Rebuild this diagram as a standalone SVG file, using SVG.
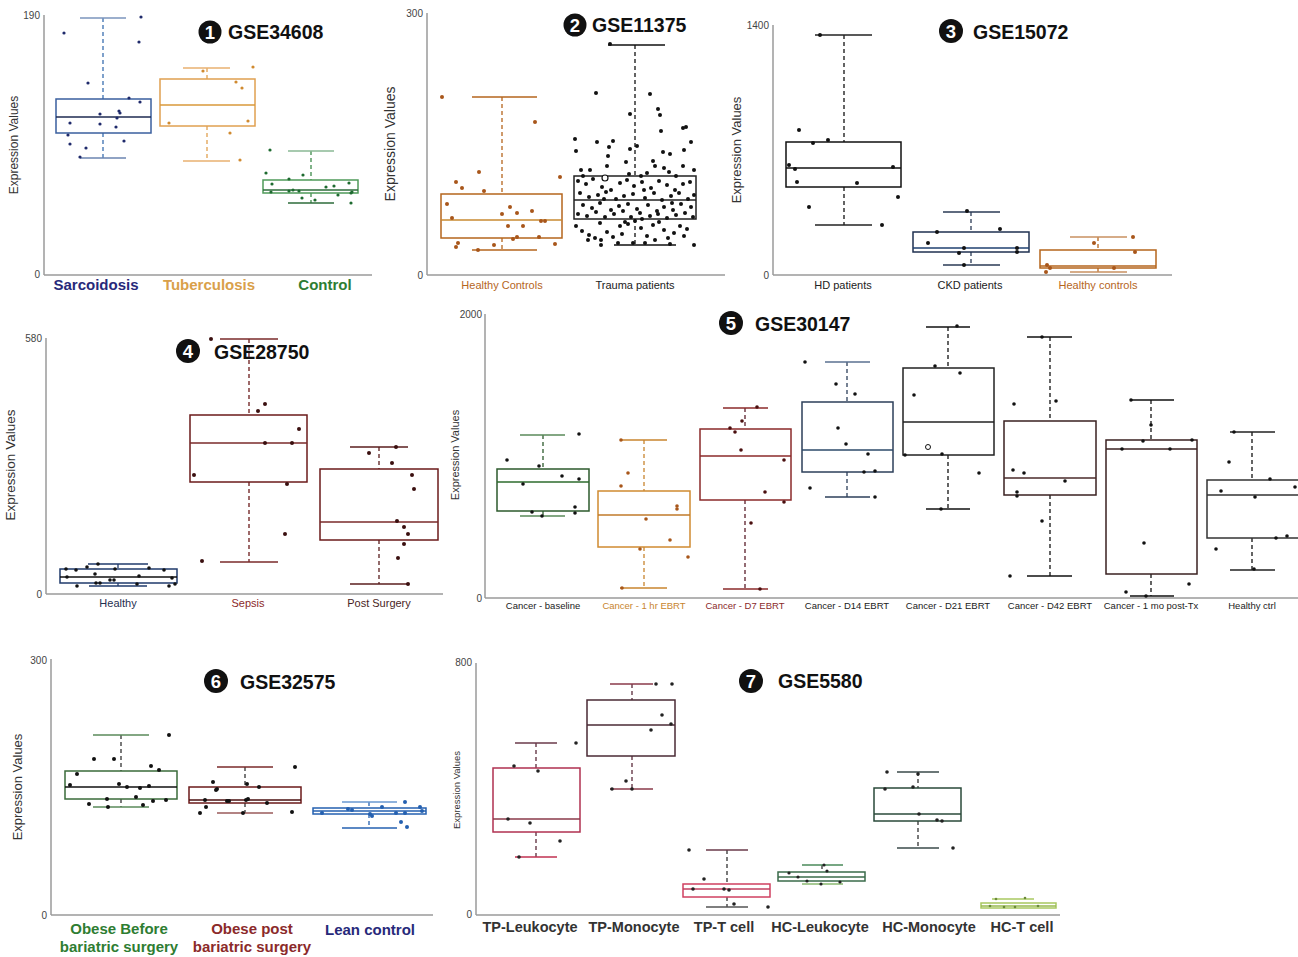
<svg xmlns="http://www.w3.org/2000/svg" width="1298" height="957" viewBox="0 0 1298 957">
<style>
text{font-family:"Liberation Sans",Arial,sans-serif}
.ax{stroke:#9a9a9a;stroke-width:1.5;fill:none}
.tk{font-size:10px;fill:#444}
.yl{fill:#333}
.box{fill:none;stroke-width:1.5}
.wh{stroke-dasharray:4 3;stroke-width:1.3}
.cap{stroke-width:1.3}
.med{stroke-width:1.5}
.tt{font-weight:bold;font-size:19.5px;fill:#111}
.num{font-weight:bold;font-size:18.5px;fill:#fff;text-anchor:middle}
.cl{font-size:11px;text-anchor:middle}
.cb{font-size:15px;font-weight:bold;text-anchor:middle}
</style>

<!-- Panel 1 -->
<g id="panel1">
<line class="ax" x1="44" y1="15" x2="44" y2="275"/><line class="ax" x1="44" y1="275" x2="372" y2="275"/>
<text class="tk" x="40" y="19" text-anchor="end" font-size="9">190</text><text class="tk" x="40" y="278" text-anchor="end" font-size="9">0</text>
<text class="yl" font-size="12" transform="translate(18,145) rotate(-90)" text-anchor="middle">Expression Values</text>
<circle cx="210" cy="32" r="11.5" fill="#111"/><text class="num" x="210" y="38.5">1</text>
<text class="tt" x="228" y="39">GSE34608</text>
<g id="p1-sarcoidosis">
<line class="wh" stroke="#3a6fb0" x1="103" y1="18" x2="103" y2="99"/><line class="wh" stroke="#3a6fb0" x1="103" y1="133" x2="103" y2="158"/>
<line class="cap" stroke="#7b95bd" x1="80" y1="18" x2="126" y2="18"/><line class="cap" stroke="#6b85b0" x1="80" y1="158" x2="126" y2="158"/>
<rect class="box" stroke="#3a5f9e" x="56" y="99" width="95" height="34"/>
<line class="med" stroke="#1e2a50" x1="56" y1="117" x2="151" y2="117"/>
<g fill="#1f2a6b"><circle cx="64" cy="33" r="1.6"/><circle cx="141" cy="17" r="1.6"/><circle cx="139" cy="42" r="1.6"/><circle cx="88" cy="83" r="1.6"/><circle cx="129" cy="98" r="1.6"/><circle cx="140" cy="102" r="1.6"/><circle cx="100" cy="114" r="1.6"/><circle cx="119" cy="111" r="1.6"/><circle cx="120" cy="113" r="1.6"/><circle cx="117" cy="118" r="1.6"/><circle cx="70" cy="123" r="1.6"/><circle cx="100" cy="124" r="1.6"/><circle cx="116" cy="127" r="1.6"/><circle cx="68" cy="135" r="1.6"/><circle cx="70" cy="144" r="1.6"/><circle cx="86" cy="148" r="1.6"/><circle cx="124" cy="141" r="1.6"/><circle cx="80" cy="157" r="1.6"/></g>
</g>
<g id="p1-tuberculosis">
<line class="wh" stroke="#e0a050" x1="207" y1="68" x2="207" y2="79"/><line class="wh" stroke="#e0a050" x1="207" y1="126" x2="207" y2="161"/>
<line class="cap" stroke="#e8b070" x1="183" y1="68" x2="230" y2="68"/><line class="cap" stroke="#e8b070" x1="183" y1="161" x2="230" y2="161"/>
<rect class="box" stroke="#e0a050" x="160" y="79" width="95" height="47"/>
<line class="med" stroke="#d9983a" x1="160" y1="105" x2="255" y2="105"/>
<g fill="#d08a30"><circle cx="203" cy="71" r="1.6"/><circle cx="253" cy="67" r="1.6"/><circle cx="236" cy="82" r="1.6"/><circle cx="242" cy="88" r="1.6"/><circle cx="169" cy="123" r="1.6"/><circle cx="248" cy="121" r="1.6"/><circle cx="230" cy="133" r="1.6"/><circle cx="240" cy="160" r="1.6"/></g>
</g>
<g id="p1-control">
<line class="wh" stroke="#3d8a4a" x1="311" y1="151" x2="311" y2="180"/><line class="wh" stroke="#3d8a4a" x1="311" y1="193" x2="311" y2="203"/>
<line class="cap" stroke="#8ab894" x1="288" y1="151" x2="334" y2="151"/><line class="cap" stroke="#2d6b3a" x1="288" y1="203" x2="334" y2="203"/>
<rect class="box" stroke="#4f9a5a" x="263" y="180" width="95" height="13"/>
<line class="med" stroke="#2d6b3a" x1="263" y1="190" x2="358" y2="190"/>
<g fill="#1e6b30"><circle cx="270" cy="150" r="1.6"/><circle cx="266" cy="173" r="1.6"/><circle cx="272" cy="184" r="1.6"/><circle cx="289" cy="179" r="1.6"/><circle cx="303" cy="175" r="1.6"/><circle cx="326" cy="187" r="1.6"/><circle cx="271" cy="192" r="1.6"/><circle cx="289" cy="191" r="1.6"/><circle cx="293" cy="190" r="1.6"/><circle cx="299" cy="191" r="1.6"/><circle cx="302" cy="198" r="1.6"/><circle cx="315" cy="200" r="1.6"/><circle cx="334" cy="186" r="1.6"/><circle cx="338" cy="195" r="1.6"/><circle cx="349" cy="183" r="1.6"/><circle cx="351" cy="193" r="1.6"/><circle cx="351" cy="203" r="1.6"/><circle cx="352" cy="192" r="1.6"/></g>
</g>
<text class="cb" x="96" y="290" fill="#27297a">Sarcoidosis</text>
<text class="cb" x="209" y="290" fill="#d9a04a">Tuberculosis</text>
<text class="cb" x="325" y="290" fill="#2e7d32">Control</text>
</g>

<!-- Panel 2 -->
<g id="panel2">
<line class="ax" x1="427" y1="13" x2="427" y2="275"/><line class="ax" x1="427" y1="275" x2="725" y2="275"/>
<text class="tk" x="423" y="17" text-anchor="end" font-size="11">300</text><text class="tk" x="423" y="279" text-anchor="end" font-size="11">0</text>
<text class="yl" font-size="14" transform="translate(395,144) rotate(-90)" text-anchor="middle">Expression Values</text>
<circle cx="575" cy="25" r="11.5" fill="#111"/><text class="num" x="575" y="31.5">2</text>
<text class="tt" x="592" y="32">GSE11375</text>
<g id="p2-healthy">
<line class="wh" stroke="#b5651d" x1="502" y1="97" x2="502" y2="194"/><line class="wh" stroke="#b5651d" x1="502" y1="238" x2="502" y2="250"/>
<line class="cap" stroke="#b5651d" x1="472" y1="97" x2="537" y2="97"/><line class="cap" stroke="#b5651d" x1="472" y1="250" x2="537" y2="250"/>
<rect class="box" stroke="#b5651d" x="441" y="194" width="121" height="44"/>
<line class="med" stroke="#c88a30" x1="441" y1="220" x2="562" y2="220"/>
<g fill="#a8561a"><circle cx="442" cy="97" r="2"/><circle cx="535" cy="122" r="2"/><circle cx="479" cy="172" r="2"/><circle cx="560" cy="177" r="2"/><circle cx="456" cy="182" r="2"/><circle cx="462" cy="188" r="2"/><circle cx="484" cy="191" r="2"/><circle cx="447" cy="204" r="2"/><circle cx="452" cy="218" r="2"/><circle cx="510" cy="207" r="2"/><circle cx="502" cy="214" r="2"/><circle cx="517" cy="213" r="2"/><circle cx="532" cy="211" r="2"/><circle cx="541" cy="221" r="2"/><circle cx="545" cy="221" r="2"/><circle cx="508" cy="226" r="2"/><circle cx="523" cy="226" r="2"/><circle cx="517" cy="237" r="2"/><circle cx="513" cy="239" r="2"/><circle cx="539" cy="237" r="2"/><circle cx="458" cy="243" r="2"/><circle cx="456" cy="247" r="2"/><circle cx="494" cy="245" r="2"/><circle cx="478" cy="250" r="2"/><circle cx="555" cy="244" r="2"/></g>
</g>
<g id="p2-trauma">
<line class="wh" stroke="#111" x1="635" y1="45" x2="635" y2="176"/><line class="wh" stroke="#111" x1="635" y1="219" x2="635" y2="245"/>
<line class="cap" stroke="#111" x1="608" y1="45" x2="665" y2="45"/><line class="cap" stroke="#111" x1="614" y1="245" x2="676" y2="245"/>
<rect class="box" stroke="#222" x="574" y="176" width="122" height="43"/>
<line class="med" stroke="#222" x1="574" y1="200" x2="696" y2="200"/>
<g fill="#111"><circle cx="596" cy="93" r="2"/><circle cx="650" cy="94" r="2"/><circle cx="610" cy="44" r="2"/><circle cx="630" cy="114" r="2"/><circle cx="658" cy="109" r="2"/><circle cx="660" cy="115" r="2"/><circle cx="683" cy="128" r="2"/><circle cx="686" cy="127" r="2"/><circle cx="661" cy="131" r="2"/><circle cx="575" cy="139" r="2"/><circle cx="691" cy="142" r="2"/><circle cx="597" cy="142" r="2"/><circle cx="613" cy="141" r="2"/><circle cx="609" cy="147" r="2"/><circle cx="637" cy="146" r="2"/><circle cx="576" cy="151" r="2"/><circle cx="630" cy="149" r="2"/><circle cx="663" cy="152" r="2"/><circle cx="670" cy="154" r="2"/><circle cx="684" cy="150" r="2"/><circle cx="608" cy="156" r="2"/><circle cx="626" cy="162" r="2"/><circle cx="653" cy="161" r="2"/><circle cx="655" cy="166" r="2"/><circle cx="607" cy="166" r="2"/><circle cx="683" cy="166" r="2"/><circle cx="581" cy="170" r="2"/><circle cx="669" cy="172" r="2"/><circle cx="694" cy="170" r="2"/><circle cx="647" cy="173" r="2"/><circle cx="629" cy="174" r="2"/><circle cx="583" cy="176" r="2"/><circle cx="590" cy="170" r="2"/><circle cx="641" cy="176" r="2"/><circle cx="676" cy="176" r="2"/><circle cx="664" cy="168" r="2"/>
<circle cx="578" cy="181" r="2"/><circle cx="586" cy="184" r="2"/><circle cx="593" cy="179" r="2"/><circle cx="602" cy="187" r="2"/><circle cx="611" cy="190" r="2"/><circle cx="620" cy="183" r="2"/><circle cx="627" cy="180" r="2"/><circle cx="634" cy="186" r="2"/><circle cx="642" cy="182" r="2"/><circle cx="651" cy="188" r="2"/><circle cx="659" cy="181" r="2"/><circle cx="667" cy="185" r="2"/><circle cx="675" cy="190" r="2"/><circle cx="683" cy="184" r="2"/><circle cx="690" cy="182" r="2"/><circle cx="580" cy="193" r="2"/><circle cx="589" cy="197" r="2"/><circle cx="598" cy="195" r="2"/><circle cx="606" cy="192" r="2"/><circle cx="616" cy="199" r="2"/><circle cx="624" cy="196" r="2"/><circle cx="633" cy="194" r="2"/><circle cx="645" cy="198" r="2"/><circle cx="654" cy="193" r="2"/><circle cx="662" cy="200" r="2"/><circle cx="671" cy="196" r="2"/><circle cx="679" cy="193" r="2"/><circle cx="688" cy="199" r="2"/><circle cx="694" cy="195" r="2"/><circle cx="583" cy="205" r="2"/><circle cx="592" cy="208" r="2"/><circle cx="600" cy="203" r="2"/><circle cx="611" cy="210" r="2"/><circle cx="619" cy="206" r="2"/><circle cx="628" cy="204" r="2"/><circle cx="637" cy="209" r="2"/><circle cx="648" cy="205" r="2"/><circle cx="657" cy="211" r="2"/><circle cx="664" cy="207" r="2"/><circle cx="673" cy="210" r="2"/><circle cx="681" cy="204" r="2"/><circle cx="691" cy="207" r="2"/><circle cx="578" cy="214" r="2"/><circle cx="587" cy="216" r="2"/><circle cx="596" cy="212" r="2"/><circle cx="605" cy="217" r="2"/><circle cx="614" cy="214" r="2"/><circle cx="623" cy="211" r="2"/><circle cx="631" cy="217" r="2"/><circle cx="640" cy="213" r="2"/><circle cx="650" cy="216" r="2"/><circle cx="658" cy="214" r="2"/><circle cx="667" cy="218" r="2"/><circle cx="676" cy="215" r="2"/><circle cx="685" cy="213" r="2"/><circle cx="693" cy="217" r="2"/><circle cx="604" cy="199" r="2"/><circle cx="644" cy="190" r="2"/><circle cx="672" cy="203" r="2"/>
<circle cx="582" cy="231" r="2"/><circle cx="589" cy="235" r="2"/><circle cx="595" cy="238" r="2"/><circle cx="601" cy="240" r="2"/><circle cx="607" cy="232" r="2"/><circle cx="613" cy="237" r="2"/><circle cx="622" cy="234" r="2"/><circle cx="628" cy="224" r="2"/><circle cx="635" cy="221" r="2"/><circle cx="641" cy="228" r="2"/><circle cx="647" cy="236" r="2"/><circle cx="653" cy="225" r="2"/><circle cx="659" cy="222" r="2"/><circle cx="664" cy="230" r="2"/><circle cx="668" cy="238" r="2"/><circle cx="674" cy="233" r="2"/><circle cx="680" cy="226" r="2"/><circle cx="687" cy="229" r="2"/><circle cx="694" cy="245" r="2"/><circle cx="588" cy="240" r="2"/><circle cx="601" cy="245" r="2"/><circle cx="618" cy="243" r="2"/><circle cx="633" cy="243" r="2"/><circle cx="645" cy="243" r="2"/><circle cx="655" cy="240" r="2"/><circle cx="670" cy="244" r="2"/><circle cx="620" cy="226" r="2"/><circle cx="576" cy="226" r="2"/><circle cx="684" cy="236" r="2"/><circle cx="600" cy="223" r="2"/><circle cx="642" cy="219" r="2"/><circle cx="625" cy="222" r="2"/></g>
<circle cx="605" cy="178" r="3" fill="#fff" stroke="#111" stroke-width="1.2"/>
</g>
<text class="cl" x="502" y="289" fill="#b5651d">Healthy Controls</text>
<text class="cl" x="635" y="289" fill="#222">Trauma patients</text>
</g>

<!-- Panel 3 -->
<g id="panel3">
<line class="ax" x1="773" y1="25" x2="773" y2="275"/><line class="ax" x1="773" y1="275" x2="1172" y2="275"/>
<text class="tk" x="769" y="29" text-anchor="end" font-size="11">1400</text><text class="tk" x="769" y="279" text-anchor="end" font-size="11">0</text>
<text class="yl" font-size="13" transform="translate(741,150) rotate(-90)" text-anchor="middle">Expression Values</text>
<circle cx="951" cy="31" r="12" fill="#111"/><text class="num" x="951" y="37.5">3</text>
<text class="tt" x="973" y="39">GSE15072</text>
<g id="p3-hd">
<line class="wh" stroke="#111" x1="844" y1="35" x2="844" y2="142"/><line class="wh" stroke="#111" x1="844" y1="187" x2="844" y2="225"/>
<line class="cap" stroke="#222" x1="815" y1="35" x2="872" y2="35"/><line class="cap" stroke="#222" x1="815" y1="225" x2="872" y2="225"/>
<rect class="box" stroke="#111" x="786" y="142" width="115" height="45"/>
<line class="med" stroke="#111" x1="786" y1="168" x2="901" y2="168"/>
<g fill="#111"><circle cx="820" cy="35" r="2"/><circle cx="799" cy="130" r="2"/><circle cx="813" cy="143" r="2"/><circle cx="828" cy="140" r="2"/><circle cx="789" cy="165" r="2"/><circle cx="795" cy="169" r="2"/><circle cx="797" cy="182" r="2"/><circle cx="857" cy="183" r="2"/><circle cx="893" cy="167" r="2"/><circle cx="898" cy="197" r="2"/><circle cx="809" cy="207" r="2"/><circle cx="882" cy="225" r="2"/></g>
</g>
<g id="p3-ckd">
<line class="wh" stroke="#2a3a55" x1="971" y1="212" x2="971" y2="232"/><line class="wh" stroke="#2a3a55" x1="971" y1="252" x2="971" y2="265"/>
<line class="cap" stroke="#2a3a55" x1="943" y1="212" x2="1000" y2="212"/><line class="cap" stroke="#2a3a55" x1="943" y1="265" x2="1000" y2="265"/>
<rect class="box" stroke="#1f3050" x="913" y="232" width="116" height="20"/>
<line class="med" stroke="#1f4070" x1="913" y1="248" x2="1029" y2="248"/>
<g fill="#111"><circle cx="967" cy="211" r="2"/><circle cx="937" cy="232" r="2"/><circle cx="928" cy="243" r="2"/><circle cx="964" cy="248" r="2"/><circle cx="959" cy="253" r="2"/><circle cx="964" cy="265" r="2"/><circle cx="1000" cy="229" r="2"/><circle cx="1017" cy="248" r="2"/><circle cx="1017" cy="252" r="2"/></g>
</g>
<g id="p3-healthy">
<line class="wh" stroke="#b5651d" x1="1098" y1="237" x2="1098" y2="250"/><line class="wh" stroke="#b5651d" x1="1098" y1="268" x2="1098" y2="272"/>
<line class="cap" stroke="#c89060" x1="1070" y1="237" x2="1127" y2="237"/><line class="cap" stroke="#c89060" x1="1070" y1="272" x2="1127" y2="272"/>
<rect class="box" stroke="#b5651d" x="1040" y="250" width="116" height="18"/>
<line class="med" stroke="#b5651d" stroke-width="2" x1="1040" y1="266" x2="1156" y2="266"/>
<g fill="#a8561a"><circle cx="1094" cy="243" r="2"/><circle cx="1047" cy="265" r="2"/><circle cx="1050" cy="268" r="2"/><circle cx="1046" cy="272" r="2"/><circle cx="1114" cy="268" r="2"/><circle cx="1133" cy="237" r="2"/><circle cx="1135" cy="252" r="2"/></g>
</g>
<text class="cl" x="843" y="289" fill="#222">HD patients</text>
<text class="cl" x="970" y="289" fill="#222">CKD patients</text>
<text class="cl" x="1098" y="289" fill="#b5651d">Healthy controls</text>
</g>

<!-- Panel 4 -->
<g id="panel4">
<line class="ax" x1="46" y1="338" x2="46" y2="594"/><line class="ax" x1="46" y1="594" x2="443" y2="594"/>
<text class="tk" x="42" y="342" text-anchor="end" font-size="11">580</text><text class="tk" x="42" y="598" text-anchor="end" font-size="11">0</text>
<text class="yl" font-size="13.5" transform="translate(15,465) rotate(-90)" text-anchor="middle">Expression Values</text>
<g id="p4-sepsis">
<line class="wh" stroke="#6b1a1a" x1="249" y1="339" x2="249" y2="415"/><line class="wh" stroke="#6b1a1a" x1="249" y1="482" x2="249" y2="562"/>
<line class="cap" stroke="#7a2a2a" x1="220" y1="339" x2="278" y2="339"/><line class="cap" stroke="#7a2a2a" x1="220" y1="562" x2="278" y2="562"/>
<rect class="box" stroke="#6b1a1a" x="190" y="415" width="117" height="67"/>
<line class="med" stroke="#7a2a2a" x1="190" y1="443" x2="307" y2="443"/>
<g fill="#3a0f0f"><circle cx="211" cy="339" r="2"/><circle cx="265" cy="404" r="2"/><circle cx="258" cy="411" r="2"/><circle cx="299" cy="429" r="2"/><circle cx="265" cy="443" r="2"/><circle cx="292" cy="443" r="2"/><circle cx="194" cy="475" r="2"/><circle cx="287" cy="484" r="2"/><circle cx="285" cy="534" r="2"/><circle cx="202" cy="561" r="2"/></g>
</g>
<circle cx="188" cy="351" r="12" fill="#111"/><text class="num" x="188" y="357.5">4</text>
<text class="tt" x="214" y="359">GSE28750</text>
<g id="p4-healthy">
<line class="wh" stroke="#1f3a6b" x1="118" y1="564" x2="118" y2="569"/><line class="wh" stroke="#1f3a6b" x1="118" y1="583" x2="118" y2="586"/>
<line class="cap" stroke="#1f3a6b" x1="88" y1="564" x2="148" y2="564"/><line class="cap" stroke="#1f3a6b" x1="89" y1="586" x2="147" y2="586"/>
<rect class="box" stroke="#1f3a6b" x="60" y="569" width="117" height="14"/>
<line class="med" stroke="#111" x1="60" y1="577" x2="177" y2="577"/>
<g fill="#111"><circle cx="66" cy="569" r="1.8"/><circle cx="76" cy="570" r="1.8"/><circle cx="87" cy="567" r="1.8"/><circle cx="98" cy="564" r="1.8"/><circle cx="115" cy="569" r="1.8"/><circle cx="149" cy="568" r="1.8"/><circle cx="164" cy="570" r="1.8"/><circle cx="67" cy="577" r="1.8"/><circle cx="95" cy="574" r="1.8"/><circle cx="110" cy="580" r="1.8"/><circle cx="114" cy="580" r="1.8"/><circle cx="139" cy="576" r="1.8"/><circle cx="172" cy="578" r="1.8"/><circle cx="77" cy="586" r="1.8"/><circle cx="96" cy="583" r="1.8"/><circle cx="100" cy="583" r="1.8"/><circle cx="137" cy="584" r="1.8"/><circle cx="169" cy="586" r="1.8"/><circle cx="175" cy="584" r="1.8"/></g>
</g>
<g id="p4-postsurgery">
<line class="wh" stroke="#5a1e1e" x1="379" y1="447" x2="379" y2="469"/><line class="wh" stroke="#5a1e1e" x1="379" y1="540" x2="379" y2="584"/>
<line class="cap" stroke="#5a1e1e" x1="350" y1="447" x2="408" y2="447"/><line class="cap" stroke="#5a1e1e" x1="350" y1="584" x2="408" y2="584"/>
<rect class="box" stroke="#6b1a1a" x="320" y="469" width="118" height="71"/>
<line class="med" stroke="#7a2a2a" x1="320" y1="522" x2="438" y2="522"/>
<g fill="#3a0f0f"><circle cx="369" cy="453" r="2"/><circle cx="392" cy="463" r="2"/><circle cx="396" cy="447" r="2"/><circle cx="412" cy="475" r="2"/><circle cx="414" cy="489" r="2"/><circle cx="397" cy="521" r="2"/><circle cx="404" cy="527" r="2"/><circle cx="408" cy="534" r="2"/><circle cx="404" cy="544" r="2"/><circle cx="398" cy="558" r="2"/><circle cx="408" cy="584" r="2"/></g>
</g>
<text class="cl" x="118" y="607" fill="#1f3050" font-size="11.5">Healthy</text>
<text class="cl" x="248" y="607" fill="#8b2a2a" font-size="11.5">Sepsis</text>
<text class="cl" x="379" y="607" fill="#4a1e1e" font-size="11.5">Post Surgery</text>
</g>

<!-- Panel 5 -->
<g id="panel5">
<line class="ax" x1="485" y1="314" x2="485" y2="598"/><line class="ax" x1="485" y1="598" x2="1298" y2="598"/>
<text class="tk" x="482" y="318" text-anchor="end" font-size="9.5">2000</text><text class="tk" x="482" y="602" text-anchor="end" font-size="9.5">0</text>
<text class="yl" font-size="11" transform="translate(459,455) rotate(-90)" text-anchor="middle">Expression Values</text>
<circle cx="731" cy="323" r="12" fill="#111"/><text class="num" x="731" y="329.5">5</text>
<text class="tt" x="755" y="331">GSE30147</text>
<g id="p5-baseline">
<line class="wh" stroke="#2d5a2d" x1="543" y1="435" x2="543" y2="469"/><line class="wh" stroke="#2d5a2d" x1="543" y1="511" x2="543" y2="516"/>
<line class="cap" stroke="#5a8a5a" x1="520" y1="435" x2="565" y2="435"/><line class="cap" stroke="#5a8a5a" x1="520" y1="516" x2="565" y2="516"/>
<rect class="box" stroke="#2d5a2d" x="497" y="469" width="92" height="42"/>
<line class="med" stroke="#2d6b2d" x1="497" y1="482" x2="589" y2="482"/>
<g fill="#111"><circle cx="507" cy="460" r="1.8"/><circle cx="539" cy="466" r="1.8"/><circle cx="579" cy="434" r="1.8"/><circle cx="562" cy="476" r="1.8"/><circle cx="579" cy="479" r="1.8"/><circle cx="523" cy="484" r="1.8"/><circle cx="532" cy="512" r="1.8"/><circle cx="542" cy="516" r="1.8"/><circle cx="575" cy="507" r="1.8"/><circle cx="575" cy="513" r="1.8"/></g>
</g>
<g id="p5-1hr">
<line class="wh" stroke="#c8852e" x1="644" y1="440" x2="644" y2="491"/><line class="wh" stroke="#c8852e" x1="644" y1="547" x2="644" y2="588"/>
<line class="cap" stroke="#c8852e" x1="620" y1="440" x2="667" y2="440"/><line class="cap" stroke="#c8852e" x1="620" y1="588" x2="667" y2="588"/>
<rect class="box" stroke="#d08a30" x="598" y="491" width="92" height="56"/>
<line class="med" stroke="#c07a2a" x1="598" y1="515" x2="690" y2="515"/>
<g fill="#a8561a"><circle cx="621" cy="440" r="1.8"/><circle cx="628" cy="473" r="1.8"/><circle cx="621" cy="486" r="1.8"/><circle cx="677" cy="506" r="1.8"/><circle cx="677" cy="509" r="1.8"/><circle cx="646" cy="519" r="1.8"/><circle cx="670" cy="540" r="1.8"/><circle cx="640" cy="549" r="1.8"/><circle cx="688" cy="557" r="1.8"/><circle cx="622" cy="588" r="1.8"/></g>
</g>
<g id="p5-d7">
<line class="wh" stroke="#5a1e2a" x1="745" y1="408" x2="745" y2="429"/><line class="wh" stroke="#5a1e2a" x1="745" y1="500" x2="745" y2="589"/>
<line class="cap" stroke="#8b2a2a" x1="723" y1="408" x2="768" y2="408"/><line class="cap" stroke="#8b2a2a" x1="723" y1="589" x2="768" y2="589"/>
<rect class="box" stroke="#8b2a2a" x="700" y="429" width="91" height="71"/>
<line class="med" stroke="#8b2a2a" x1="700" y1="456" x2="791" y2="456"/>
<g fill="#4a0f0f"><circle cx="757" cy="407" r="1.8"/><circle cx="742" cy="421" r="1.8"/><circle cx="730" cy="428" r="1.8"/><circle cx="735" cy="432" r="1.8"/><circle cx="741" cy="450" r="1.8"/><circle cx="784" cy="460" r="1.8"/><circle cx="765" cy="492" r="1.8"/><circle cx="784" cy="502" r="1.8"/><circle cx="751" cy="523" r="1.8"/><circle cx="760" cy="589" r="1.8"/></g>
</g>
<g id="p5-d14">
<line class="wh" stroke="#2d3f5a" x1="847" y1="362" x2="847" y2="402"/><line class="wh" stroke="#2d3f5a" x1="847" y1="472" x2="847" y2="497"/>
<line class="cap" stroke="#5a7090" x1="825" y1="362" x2="870" y2="362"/><line class="cap" stroke="#2d3f5a" x1="825" y1="497" x2="870" y2="497"/>
<rect class="box" stroke="#2d3f5a" x="802" y="402" width="91" height="70"/>
<line class="med" stroke="#2d4a6a" x1="802" y1="450" x2="893" y2="450"/>
<g fill="#111"><circle cx="805" cy="362" r="1.8"/><circle cx="836" cy="384" r="1.8"/><circle cx="855" cy="394" r="1.8"/><circle cx="838" cy="428" r="1.8"/><circle cx="846" cy="444" r="1.8"/><circle cx="868" cy="454" r="1.8"/><circle cx="864" cy="472" r="1.8"/><circle cx="875" cy="471" r="1.8"/><circle cx="810" cy="488" r="1.8"/><circle cx="875" cy="497" r="1.8"/></g>
</g>
<g id="p5-d21">
<line class="wh" stroke="#111" x1="948" y1="327" x2="948" y2="368"/><line class="wh" stroke="#111" x1="948" y1="455" x2="948" y2="509"/>
<line class="cap" stroke="#111" x1="926" y1="327" x2="970" y2="327"/><line class="cap" stroke="#111" x1="926" y1="509" x2="970" y2="509"/>
<rect class="box" stroke="#222" x="903" y="368" width="91" height="87"/>
<line class="med" stroke="#222" x1="903" y1="422" x2="994" y2="422"/>
<g fill="#111"><circle cx="957" cy="326" r="1.8"/><circle cx="935" cy="366" r="1.8"/><circle cx="960" cy="373" r="1.8"/><circle cx="914" cy="395" r="1.8"/><circle cx="905" cy="455" r="1.8"/><circle cx="942" cy="454" r="1.8"/><circle cx="979" cy="473" r="1.8"/><circle cx="941" cy="509" r="1.8"/></g>
<circle cx="928" cy="447" r="2.5" fill="none" stroke="#111" stroke-width="1"/>
</g>
<g id="p5-d42">
<line class="wh" stroke="#111" x1="1050" y1="337" x2="1050" y2="421"/><line class="wh" stroke="#111" x1="1050" y1="495" x2="1050" y2="576"/>
<line class="cap" stroke="#111" x1="1027" y1="337" x2="1072" y2="337"/><line class="cap" stroke="#111" x1="1027" y1="576" x2="1072" y2="576"/>
<rect class="box" stroke="#3a2020" x="1004" y="421" width="92" height="74"/>
<line class="med" stroke="#4a2a2a" x1="1004" y1="478" x2="1096" y2="478"/>
<g fill="#111"><circle cx="1042" cy="337" r="1.8"/><circle cx="1014" cy="404" r="1.8"/><circle cx="1056" cy="401" r="1.8"/><circle cx="1013" cy="470" r="1.8"/><circle cx="1024" cy="473" r="1.8"/><circle cx="1017" cy="492" r="1.8"/><circle cx="1017" cy="496" r="1.8"/><circle cx="1065" cy="481" r="1.8"/><circle cx="1042" cy="521" r="1.8"/><circle cx="1010" cy="576" r="1.8"/></g>
</g>
<g id="p5-1mo">
<line class="wh" stroke="#111" x1="1151" y1="400" x2="1151" y2="440"/><line class="wh" stroke="#111" x1="1151" y1="574" x2="1151" y2="596"/>
<line class="cap" stroke="#111" x1="1130" y1="400" x2="1174" y2="400"/><line class="cap" stroke="#111" x1="1130" y1="596" x2="1174" y2="596"/>
<rect class="box" stroke="#3a2020" x="1106" y="440" width="91" height="134"/>
<line class="med" stroke="#3a2020" x1="1106" y1="449" x2="1197" y2="449"/>
<g fill="#111"><circle cx="1131" cy="400" r="1.8"/><circle cx="1151" cy="425" r="1.8"/><circle cx="1143" cy="441" r="1.8"/><circle cx="1192" cy="440" r="1.8"/><circle cx="1122" cy="449" r="1.8"/><circle cx="1170" cy="449" r="1.8"/><circle cx="1144" cy="543" r="1.8"/><circle cx="1189" cy="584" r="1.8"/><circle cx="1126" cy="592" r="1.8"/><circle cx="1146" cy="596" r="1.8"/></g>
</g>
<g id="p5-healthy">
<line class="wh" stroke="#111" x1="1252" y1="432" x2="1252" y2="480"/><line class="wh" stroke="#111" x1="1252" y1="538" x2="1252" y2="570"/>
<line class="cap" stroke="#222" x1="1230" y1="432" x2="1275" y2="432"/><line class="cap" stroke="#222" x1="1230" y1="570" x2="1275" y2="570"/>
<rect class="box" stroke="#333" x="1207" y="480" width="95" height="58"/>
<line class="med" stroke="#333" x1="1207" y1="495" x2="1298" y2="495"/>
<g fill="#111"><circle cx="1234" cy="432" r="1.8"/><circle cx="1229" cy="462" r="1.8"/><circle cx="1221" cy="491" r="1.8"/><circle cx="1255" cy="497" r="1.8"/><circle cx="1270" cy="479" r="1.8"/><circle cx="1295" cy="487" r="1.8"/><circle cx="1216" cy="549" r="1.8"/><circle cx="1276" cy="538" r="1.8"/><circle cx="1287" cy="536" r="1.8"/><circle cx="1254" cy="569" r="1.8"/></g>
</g>
<g font-size="9.5" text-anchor="middle" fill="#222">
<text x="543" y="609">Cancer - baseline</text>
<text x="644" y="609" fill="#c8852e">Cancer - 1 hr EBRT</text>
<text x="745" y="609" fill="#8b2a2a">Cancer - D7 EBRT</text>
<text x="847" y="609">Cancer - D14 EBRT</text>
<text x="948" y="609">Cancer - D21 EBRT</text>
<text x="1050" y="609">Cancer - D42 EBRT</text>
<text x="1151" y="609">Cancer - 1 mo post-Tx</text>
<text x="1252" y="609">Healthy ctrl</text>
</g>
</g>

<!-- Panel 6 -->
<g id="panel6">
<line class="ax" x1="51" y1="659" x2="51" y2="915"/><line class="ax" x1="51" y1="915" x2="433" y2="915"/>
<text class="tk" x="47" y="664" text-anchor="end" font-size="11">300</text><text class="tk" x="47" y="919" text-anchor="end" font-size="11">0</text>
<text class="yl" font-size="13" transform="translate(22,787) rotate(-90)" text-anchor="middle">Expression Values</text>
<circle cx="216" cy="681" r="12" fill="#111"/><text class="num" x="216" y="687.5">6</text>
<text class="tt" x="240" y="689">GSE32575</text>
<g id="p6-before">
<line class="wh" stroke="#333" x1="121" y1="735" x2="121" y2="771"/><line class="wh" stroke="#333" x1="121" y1="799" x2="121" y2="807"/>
<line class="cap" stroke="#5a8a5a" x1="93" y1="735" x2="149" y2="735"/><line class="cap" stroke="#5a8a5a" x1="93" y1="807" x2="149" y2="807"/>
<rect class="box" stroke="#3a6b3a" x="65" y="771" width="112" height="28"/>
<line class="med" stroke="#111" stroke-width="2" x1="65" y1="787" x2="177" y2="787"/>
<g fill="#111"><circle cx="169" cy="735" r="2"/><circle cx="94" cy="759" r="2"/><circle cx="114" cy="759" r="2"/><circle cx="77" cy="774" r="2"/><circle cx="151" cy="766" r="2"/><circle cx="159" cy="770" r="2"/><circle cx="70" cy="785" r="2"/><circle cx="119" cy="784" r="2"/><circle cx="127" cy="787" r="2"/><circle cx="140" cy="788" r="2"/><circle cx="149" cy="786" r="2"/><circle cx="107" cy="799" r="2"/><circle cx="136" cy="797" r="2"/><circle cx="153" cy="801" r="2"/><circle cx="166" cy="800" r="2"/><circle cx="89" cy="804" r="2"/><circle cx="108" cy="807" r="2"/><circle cx="143" cy="805" r="2"/></g>
</g>
<g id="p6-post">
<line class="wh" stroke="#333" x1="245" y1="767" x2="245" y2="787"/><line class="wh" stroke="#333" x1="245" y1="803" x2="245" y2="813"/>
<line class="cap" stroke="#7a2a2a" x1="217" y1="767" x2="273" y2="767"/><line class="cap" stroke="#9a5a5a" x1="217" y1="813" x2="273" y2="813"/>
<rect class="box" stroke="#6b1a1a" x="189" y="787" width="112" height="16"/>
<line class="med" stroke="#4a0f0f" stroke-width="2.2" x1="189" y1="800" x2="301" y2="800"/>
<g fill="#111"><circle cx="295" cy="767" r="2"/><circle cx="213" cy="782" r="2"/><circle cx="217" cy="789" r="2"/><circle cx="216" cy="790" r="2"/><circle cx="247" cy="784" r="2"/><circle cx="259" cy="787" r="2"/><circle cx="205" cy="800" r="2"/><circle cx="227" cy="801" r="2"/><circle cx="229" cy="801" r="2"/><circle cx="248" cy="799" r="2"/><circle cx="246" cy="800" r="2"/><circle cx="267" cy="803" r="2"/><circle cx="206" cy="807" r="2"/><circle cx="200" cy="813" r="2"/><circle cx="243" cy="813" r="2"/><circle cx="292" cy="812" r="2"/></g>
</g>
<g id="p6-lean">
<line class="wh" stroke="#2460b0" x1="369" y1="802" x2="369" y2="808"/><line class="wh" stroke="#2460b0" x1="369" y1="814" x2="369" y2="828"/>
<line class="cap" stroke="#6a98d0" x1="342" y1="802" x2="397" y2="802"/><line class="cap" stroke="#2460b0" x1="342" y1="828" x2="397" y2="828"/>
<rect class="box" stroke="#2460b0" stroke-width="2" x="313" y="808" width="113" height="6"/>
<line class="med" stroke="#2460b0" stroke-width="2" x1="313" y1="811" x2="426" y2="811"/>
<g fill="#2460b0"><circle cx="405" cy="802" r="2"/><circle cx="348" cy="809" r="2"/><circle cx="352" cy="810" r="2"/><circle cx="382" cy="807" r="2"/><circle cx="420" cy="807" r="2"/><circle cx="322" cy="813" r="2"/><circle cx="370" cy="814" r="2"/><circle cx="372" cy="816" r="2"/><circle cx="396" cy="813" r="2"/><circle cx="405" cy="813" r="2"/><circle cx="422" cy="811" r="2"/><circle cx="401" cy="822" r="2"/><circle cx="407" cy="827" r="2"/></g>
</g>
<g class="cb" font-size="14.5">
<text x="119" y="934" fill="#2e7d32">Obese Before</text>
<text x="119" y="952" fill="#2e7d32">bariatric surgery</text>
<text x="252" y="934" fill="#8b2a2a">Obese post</text>
<text x="252" y="952" fill="#8b2a2a">bariatric surgery</text>
<text x="370" y="935" fill="#27297a">Lean control</text>
</g>
</g>

<!-- Panel 7 -->
<g id="panel7">
<line class="ax" x1="476" y1="663" x2="476" y2="915"/><line class="ax" x1="476" y1="915" x2="1060" y2="915"/>
<text class="tk" x="472" y="666" text-anchor="end" font-size="7">800</text><text class="tk" x="472" y="918" text-anchor="end" font-size="7">0</text>
<text class="yl" font-size="9.5" transform="translate(460,790) rotate(-90)" text-anchor="middle">Expression Values</text>
<circle cx="751" cy="681" r="12" fill="#111"/><text class="num" x="751" y="687.5">7</text>
<text class="tt" x="778" y="688">GSE5580</text>
<g id="p7-tpleuk">
<line class="wh" stroke="#5a2a3a" x1="536" y1="743" x2="536" y2="768"/><line class="wh" stroke="#5a2a3a" x1="536" y1="832" x2="536" y2="857"/>
<line class="cap" stroke="#6a3a4a" x1="515" y1="743" x2="557" y2="743"/><line class="cap" stroke="#c03050" x1="515" y1="857" x2="557" y2="857"/>
<rect class="box" stroke="#b03050" x="493" y="768" width="87" height="64"/>
<line class="med" stroke="#8a3a4a" x1="493" y1="819" x2="580" y2="819"/>
<g fill="#222"><circle cx="514" cy="766" r="1.8"/><circle cx="538" cy="771" r="1.8"/><circle cx="508" cy="819" r="1.8"/><circle cx="530" cy="823" r="1.8"/><circle cx="560" cy="841" r="1.8"/><circle cx="576" cy="743" r="1.8"/><circle cx="519" cy="857" r="1.8"/></g>
</g>
<g id="p7-tpmono">
<line class="wh" stroke="#5a2a3a" x1="632" y1="684" x2="632" y2="700"/><line class="wh" stroke="#5a2a3a" x1="632" y1="756" x2="632" y2="789"/>
<line class="cap" stroke="#8a3a4a" x1="610" y1="684" x2="653" y2="684"/><line class="cap" stroke="#8a3a4a" x1="610" y1="789" x2="653" y2="789"/>
<rect class="box" stroke="#4a2a35" x="587" y="700" width="88" height="56"/>
<line class="med" stroke="#4a2a35" x1="587" y1="725" x2="675" y2="725"/>
<g fill="#222"><circle cx="656" cy="684" r="1.8"/><circle cx="672" cy="684" r="1.8"/><circle cx="662" cy="715" r="1.8"/><circle cx="651" cy="730" r="1.8"/><circle cx="671" cy="724" r="1.8"/><circle cx="626" cy="781" r="1.8"/><circle cx="632" cy="789" r="1.8"/><circle cx="612" cy="789" r="1.8"/></g>
</g>
<g id="p7-tptcell">
<line class="wh" stroke="#333" x1="727" y1="850" x2="727" y2="884"/><line class="wh" stroke="#333" x1="727" y1="897" x2="727" y2="907"/>
<line class="cap" stroke="#6a3a4a" x1="706" y1="850" x2="748" y2="850"/><line class="cap" stroke="#555" x1="706" y1="907" x2="748" y2="907"/>
<rect class="box" stroke="#d04060" x="683" y="884" width="87" height="13"/>
<line class="med" stroke="#c04060" x1="683" y1="889" x2="770" y2="889"/>
<g fill="#222"><circle cx="689" cy="850" r="1.8"/><circle cx="704" cy="879" r="1.8"/><circle cx="693" cy="889" r="1.8"/><circle cx="724" cy="889" r="1.8"/><circle cx="729" cy="890" r="1.8"/><circle cx="734" cy="904" r="1.8"/><circle cx="768" cy="907" r="1.8"/></g>
</g>
<g id="p7-hcleuk">
<line class="wh" stroke="#333" x1="822" y1="865" x2="822" y2="872"/>
<line class="cap" stroke="#4a8a5a" x1="802" y1="865" x2="843" y2="865"/><line class="cap" stroke="#8ab870" x1="802" y1="884" x2="843" y2="884"/>
<rect class="box" stroke="#3a6b4a" x="778" y="872" width="87" height="9"/>
<line class="med" stroke="#3a6b4a" x1="778" y1="877" x2="865" y2="877"/>
<g fill="#222"><circle cx="789" cy="873" r="1.6"/><circle cx="798" cy="877" r="1.6"/><circle cx="807" cy="881" r="1.6"/><circle cx="821" cy="884" r="1.6"/><circle cx="824" cy="865" r="1.6"/><circle cx="827" cy="871" r="1.6"/><circle cx="840" cy="882" r="1.6"/></g>
</g>
<g id="p7-hcmono">
<line class="wh" stroke="#333" x1="918" y1="772" x2="918" y2="788"/><line class="wh" stroke="#333" x1="918" y1="821" x2="918" y2="848"/>
<line class="cap" stroke="#3a4a4a" x1="897" y1="772" x2="939" y2="772"/><line class="cap" stroke="#3a4a4a" x1="897" y1="848" x2="939" y2="848"/>
<rect class="box" stroke="#2a4a3a" x="874" y="788" width="87" height="33"/>
<line class="med" stroke="#2a4a3a" x1="874" y1="814" x2="961" y2="814"/>
<g fill="#222"><circle cx="887" cy="772" r="1.8"/><circle cx="885" cy="789" r="1.8"/><circle cx="913" cy="787" r="1.8"/><circle cx="918" cy="774" r="1.8"/><circle cx="919" cy="814" r="1.8"/><circle cx="937" cy="820" r="1.8"/><circle cx="942" cy="821" r="1.8"/><circle cx="953" cy="848" r="1.8"/></g>
</g>
<g id="p7-hctcell">
<line class="cap" stroke="#a8c860" x1="992" y1="899" x2="1034" y2="899"/>
<rect class="box" stroke="#a8c860" x="981" y="903" width="75" height="5"/>
<line class="med" stroke="#98b850" x1="981" y1="906" x2="1056" y2="906"/>
<g fill="#6a8a3a"><circle cx="996" cy="899" r="1.3"/><circle cx="1025" cy="898" r="1.3"/><circle cx="990" cy="906" r="1.3"/><circle cx="1004" cy="907" r="1.3"/><circle cx="1015" cy="907" r="1.3"/><circle cx="1038" cy="906" r="1.3"/></g>
</g>
<g font-size="14.5" font-weight="bold" text-anchor="middle" fill="#333">
<text x="530" y="932">TP-Leukocyte</text>
<text x="634" y="932">TP-Monocyte</text>
<text x="724" y="932">TP-T cell</text>
<text x="820" y="932">HC-Leukocyte</text>
<text x="929" y="932">HC-Monocyte</text>
<text x="1022" y="932">HC-T cell</text>
</g>
</g>
</svg>
